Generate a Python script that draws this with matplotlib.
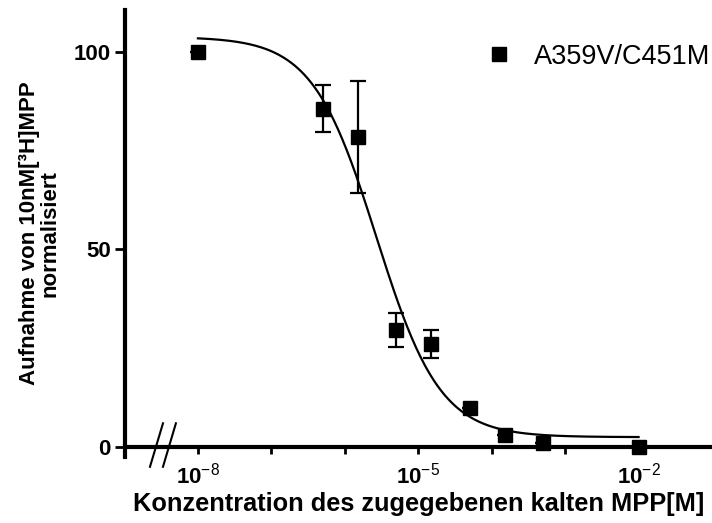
import numpy as np
import matplotlib
matplotlib.use('Agg')
import matplotlib.pyplot as plt
from matplotlib.ticker import FixedLocator, FixedFormatter, NullLocator

plt.rcParams['font.family'] = ['Liberation Sans', 'DejaVu Sans']
plt.rcParams['mathtext.fontset'] = 'custom'
plt.rcParams['mathtext.rm'] = 'Liberation Sans'
plt.rcParams['mathtext.bf'] = 'Liberation Sans:bold'

# measured points (concentration in M, uptake normalised)
conc = [1e-8, 5e-7, 1.5e-6, 5e-6, 1.5e-5, 5e-5, 1.5e-4, 5e-4, 1e-2]
uptake = [100, 85.6, 78.4, 29.6, 26.0, 9.9, 3.0, 1.0, 0.0]
sem = [0, 5.9, 14.2, 4.2, 3.5, 0, 0, 0, 0]

# sigmoidal dose response fit
fit_top = 103.8
fit_bottom = 2.5
fit_logic50 = -5.57
fit_hill = 1.0

series_label = 'A359V/C451M'
xtick_vals = [1e-8, 1e-7, 1e-6, 1e-5, 1e-4, 1e-3, 1e-2]
xtick_labels = [r'$\mathbf{10}^{-8}$', '', '', r'$\mathbf{10}^{-5}$', '', '', r'$\mathbf{10}^{-2}$']
ytick_vals = [0, 50, 100]


fig = plt.figure(figsize=(7.12, 5.23), dpi=100)
ax = fig.add_axes([124.5 / 712, (523 - 456.5) / 523, (712 - 124.5) / 712, (456.5 - 10) / 523])

ax.set_xscale('log')
ax.set_xlim(1e-9, 1e-1)
ax.set_ylim(-2.4, 110.6)

logx = np.linspace(-8, -2, 300)
curve = fit_bottom + (fit_top - fit_bottom) / (1 + 10 ** ((logx - fit_logic50) * fit_hill))
ax.plot(10 ** logx, curve, color='black', lw=1.6, zorder=3)

ax.errorbar(conc, uptake, yerr=sem, fmt='none', ecolor='black', elinewidth=1.6,
            capsize=5.5, capthick=1.6, zorder=4)
ax.plot(conc, uptake, 's', color='black', ms=10.5, label=series_label, zorder=5, clip_on=False)

for s in ['top', 'right']:
    ax.spines[s].set_visible(False)
ax.spines['left'].set_linewidth(3)
ax.spines['bottom'].set_linewidth(3)
ax.spines['bottom'].set_position(('data', 0))

ax.xaxis.set_major_locator(FixedLocator(xtick_vals))
ax.xaxis.set_major_formatter(FixedFormatter(xtick_labels))
ax.xaxis.set_minor_locator(NullLocator())
ax.set_yticks(ytick_vals)
ax.tick_params(axis='x', direction='out', length=5, width=2, pad=6, labelsize=16)
ax.tick_params(axis='y', direction='out', length=7, width=2, pad=3, labelsize=16)
for t in ax.get_yticklabels():
    t.set_fontweight('bold')

# axis break marks
for x0, x1 in [(-8.653, -8.476), (-8.476, -8.30)]:
    ax.plot([10 ** x0, 10 ** x1], [-5.0, 6.0], color='black', lw=1.5, clip_on=False, zorder=6)

ax.set_xlabel('Konzentration des zugegebenen kalten MPP[M]', fontsize=18.3, fontweight='bold', labelpad=3)
ax.set_ylabel('Aufnahme von 10nM[³H]MPP\nnormalisiert', fontsize=16, fontweight='bold',
              labelpad=9, linespacing=1.0)

ax.legend(loc='upper right', bbox_to_anchor=(1.02, 0.955), frameon=False, fontsize=19.5,
          handlelength=0.8, handletextpad=0.9, numpoints=1, borderaxespad=0.1)

fig.savefig('out.png', dpi=100)
